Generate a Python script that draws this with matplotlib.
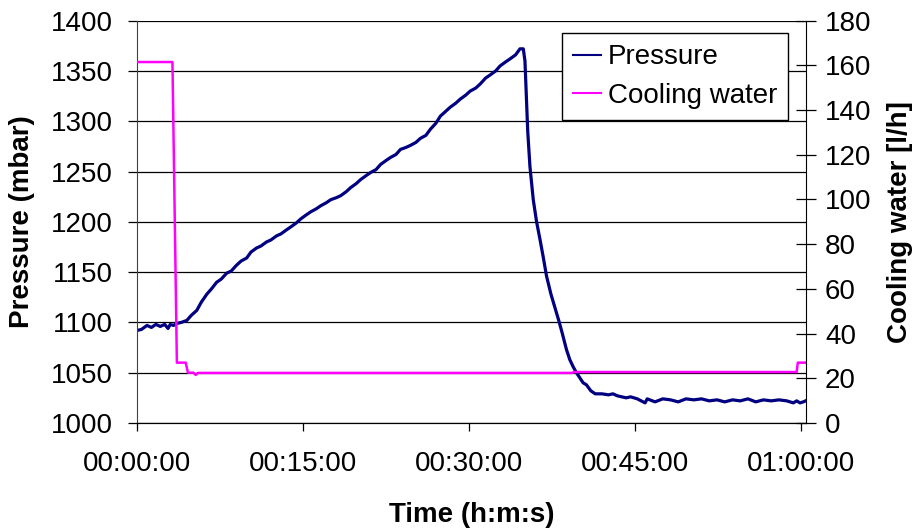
import matplotlib.pyplot as plt
from matplotlib.ticker import FuncFormatter

plt.rcParams['font.family'] = ['Liberation Sans', 'DejaVu Sans']

# time in minutes, pressure in mbar
p_time = [0.0, 0.4, 0.9, 1.3, 1.7, 2.1, 2.5, 2.8, 3.0, 3.3, 3.6, 4.0, 4.5, 4.9,
          5.4, 5.8, 6.3, 6.7, 7.2, 7.6, 8.1, 8.5, 9.0, 9.4, 9.9, 10.3, 10.8,
          11.2, 11.7, 12.1, 12.6, 13.0, 13.5, 13.9, 14.4, 14.8, 15.3, 15.7,
          16.2, 16.6, 17.1, 17.5, 18.0, 18.4, 18.9, 19.3, 19.8, 20.2, 20.7,
          21.1, 21.6, 22.0, 22.5, 22.9, 23.4, 23.8, 24.3, 24.7, 25.2, 25.6,
          26.1, 26.5, 27.0, 27.4, 27.9, 28.3, 28.8, 29.2, 29.7, 30.1, 30.6,
          31.0, 31.5, 31.9, 32.4, 32.8, 33.3, 33.7, 34.2, 34.6, 34.9, 35.05,
          35.3, 35.5, 35.8, 36.1, 36.4, 36.7, 37.0, 37.4, 37.8, 38.1, 38.4,
          38.8, 39.1, 39.4, 39.7, 40.0, 40.3, 40.6, 41.0, 41.4, 42.0, 42.6,
          43.0, 43.4, 43.8, 44.2, 44.6, 45.2, 45.9, 46.1, 46.8, 47.5, 48.2,
          48.9, 49.6, 50.3, 51.0, 51.7, 52.4, 53.1, 53.8, 54.5, 55.2, 55.9,
          56.6, 57.3, 58.0, 58.7, 59.3, 59.6, 59.9, 60.2, 60.4]
pressure = [1092, 1093, 1097, 1095, 1098, 1096, 1098, 1094, 1098, 1097, 1099,
            1100, 1102, 1107, 1112, 1120, 1128, 1133, 1140, 1143, 1149, 1151,
            1157, 1161, 1164, 1170, 1174, 1176, 1180, 1182, 1186, 1188, 1192,
            1195, 1199, 1203, 1207, 1210, 1213, 1216, 1219, 1222, 1224, 1226,
            1230, 1234, 1238, 1242, 1246, 1249, 1252, 1257, 1261, 1264, 1267,
            1272, 1274, 1276, 1279, 1283, 1286, 1292, 1298, 1305, 1310, 1314,
            1318, 1322, 1326, 1330, 1333, 1337, 1343, 1346, 1350, 1355, 1359,
            1362, 1366, 1372, 1372, 1360, 1290, 1255, 1222, 1200, 1183, 1165,
            1146, 1128, 1113, 1102, 1090, 1073, 1063, 1056, 1050, 1045, 1040,
            1038, 1032, 1029, 1029, 1028, 1029, 1027, 1026, 1025, 1026, 1024,
            1020, 1024, 1021, 1024, 1023, 1021, 1024, 1023, 1024, 1022, 1023,
            1021, 1023, 1022, 1024, 1021, 1023, 1022, 1023, 1022, 1020, 1022,
            1020, 1021, 1022]

# time in minutes, cooling water in l/h
cw_time = [0.0, 3.2, 3.6, 4.4, 4.6, 5.1, 5.3, 5.5, 39.3, 39.5, 59.6, 59.7, 60.4]
cooling = [161.5, 161.5, 27, 27, 22.5, 22.5, 21.5, 22.4, 22.4, 22.8, 22.8, 27, 27]

x_ticks = [0, 15, 30, 45, 60]


def hms(v, pos):
    s = int(round(v * 60))
    return '%02d:%02d:%02d' % (s // 3600, (s // 60) % 60, s % 60)


fig = plt.figure(figsize=(9.16, 5.29), dpi=100)
ax = fig.add_axes([0.1496, 0.2004, 0.7298, 0.7605])
ax2 = ax.twinx()

ax.plot(p_time, pressure, color='#000080', lw=2.3, label='Pressure')
ax2.plot(cw_time, cooling, color='#FF00FF', lw=1.8, label='Cooling water')

ax.set_xlim(0, 60.4)
ax.set_ylim(1000, 1400)
ax2.set_ylim(0, 180)
ax.set_yticks(range(1000, 1401, 50))
ax2.set_yticks(range(0, 181, 20))
ax.set_xticks(x_ticks)
ax.xaxis.set_major_formatter(FuncFormatter(hms))

ax.yaxis.grid(True, color='black', lw=0.9)
ax.set_axisbelow(True)

for a in (ax, ax2):
    a.spines['top'].set_visible(False)
    a.spines['right'].set_visible(False)
    a.spines['left'].set_visible(False)
    a.spines['bottom'].set_color('black')
ax.spines['left'].set_visible(True)
ax2.spines['right'].set_visible(True)
ax.spines['left'].set_color('#404040')
ax2.spines['right'].set_color('black')

ax.tick_params(axis='y', direction='out', length=6.5, width=0.9, labelsize=20, pad=11)
ax.tick_params(axis='x', direction='out', length=6, width=0.9, labelsize=20, pad=14)
ax2.tick_params(axis='y', direction='inout', length=14, width=0.9, labelsize=20, pad=7)

ax.set_xlabel('Time (h:m:s)', fontsize=20, fontweight='bold', labelpad=18)
ax.set_ylabel('Pressure (mbar)', fontsize=20, fontweight='bold', labelpad=11)
ax2.set_ylabel('Cooling water [l/h]', fontsize=20, fontweight='bold',
               rotation=90, labelpad=11)

h1, l1 = ax.get_legend_handles_labels()
h2, l2 = ax2.get_legend_handles_labels()
leg = ax2.legend(h1 + h2, l1 + l2, loc='upper right', bbox_to_anchor=(0.974, 0.969),
                 borderaxespad=0, fontsize=20, fancybox=False, framealpha=1,
                 edgecolor='black', handlelength=1.0, handletextpad=0.25,
                 borderpad=0.4, labelspacing=0.45)
leg.get_frame().set_linewidth(1.0)
for line in leg.get_lines():
    line.set_linewidth(1.5)

fig.savefig('out.png', dpi=100)
